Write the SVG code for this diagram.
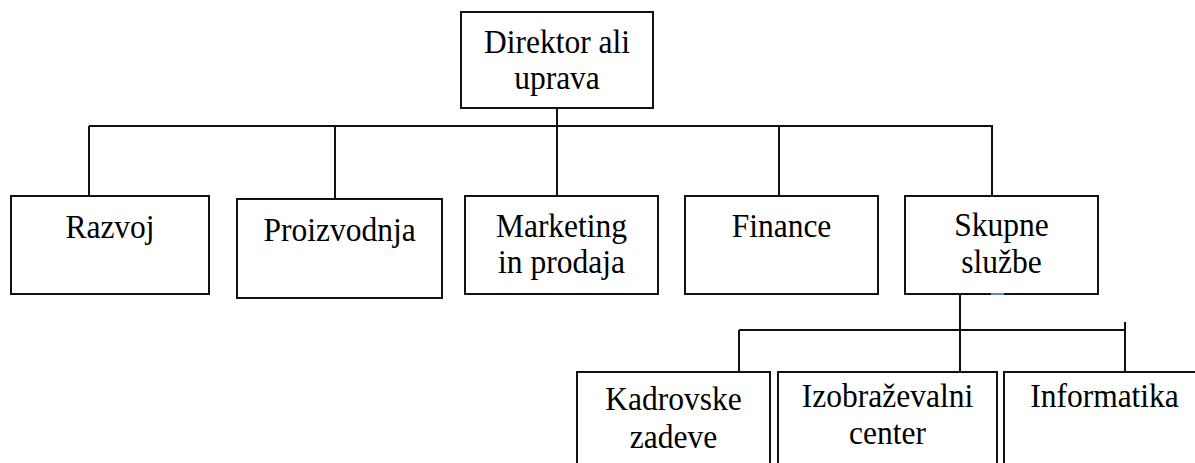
<svg xmlns="http://www.w3.org/2000/svg" width="1195" height="463" viewBox="0 0 1195 463">
  <style>
    .box { fill: #ffffff; stroke: #111111; stroke-width: 2; }
    .link { fill: none; stroke: #111111; stroke-width: 2; }
    .label { font-family: "Liberation Serif", "Times New Roman", serif; font-size: 33px; fill: #000000; text-anchor: middle; }
  </style>
  <rect width="1195" height="463" fill="#ffffff"/>

  <!-- connectors -->
  <g id="connectors">
    <path class="link" d="M557 108 V196"/>
    <path class="link" d="M89 126 H992"/>
    <path class="link" d="M89 126 V196"/>
    <path class="link" d="M335 126 V199"/>
    <path class="link" d="M779 126 V196"/>
    <path class="link" d="M992 125 V196"/>
    <path class="link" d="M960 294 V372"/>
    <path class="link" d="M739 330 H1125"/>
    <path class="link" d="M739 330 V372"/>
    <path class="link" d="M1125 322 V376"/>
  </g>

  <!-- top level; labels are set slightly narrow (scale 0.955 across) -->
  <g id="node-direktor">
    <rect class="box" x="461" y="12" width="192" height="96"/>
    <text class="label" transform="translate(557 53) scale(0.955 1)">Direktor ali</text>
    <text class="label" transform="translate(557 89) scale(0.955 1)">uprava</text>
  </g>

  <!-- departments -->
  <g id="node-razvoj">
    <rect class="box" x="11" y="196" width="198" height="98"/>
    <text class="label" transform="translate(110 238) scale(0.955 1)">Razvoj</text>
  </g>
  <g id="node-proizvodnja">
    <rect class="box" x="237" y="199" width="205" height="99"/>
    <text class="label" transform="translate(339.5 241) scale(0.955 1)">Proizvodnja</text>
  </g>
  <g id="node-marketing">
    <rect class="box" x="465" y="196" width="193" height="98"/>
    <text class="label" transform="translate(561.5 237) scale(0.955 1)">Marketing</text>
    <text class="label" transform="translate(561.5 273) scale(0.955 1)">in prodaja</text>
  </g>
  <g id="node-finance">
    <rect class="box" x="685" y="196" width="193" height="98"/>
    <text class="label" transform="translate(781.5 237) scale(0.955 1)">Finance</text>
  </g>
  <g id="node-skupne">
    <rect class="box" x="905" y="196" width="193" height="98"/>
    <line x1="991" y1="294" x2="1004" y2="294" stroke="#5b87c5" stroke-width="2"/>
    <text class="label" transform="translate(1001.5 236) scale(0.955 1)">Skupne</text>
    <text class="label" transform="translate(1001.5 272.5) scale(0.955 1)">službe</text>
  </g>

  <!-- shared services units -->
  <g id="node-kadrovske">
    <path class="box" d="M577 470 V372 H770 V470"/>
    <text class="label" transform="translate(673.5 410) scale(0.955 1)">Kadrovske</text>
    <text class="label" transform="translate(673.5 448) scale(0.955 1)">zadeve</text>
  </g>
  <g id="node-izobrazevalni">
    <path class="box" d="M778 470 V372 H997 V470"/>
    <text class="label" transform="translate(887.5 407) scale(0.955 1)">Izobraževalni</text>
    <text class="label" transform="translate(887.5 444) scale(0.955 1)">center</text>
  </g>
  <g id="node-informatika">
    <path class="box" d="M1004 470 V372 H1205"/>
    <text class="label" transform="translate(1104.5 407) scale(0.955 1)">Informatika</text>
  </g>
</svg>
